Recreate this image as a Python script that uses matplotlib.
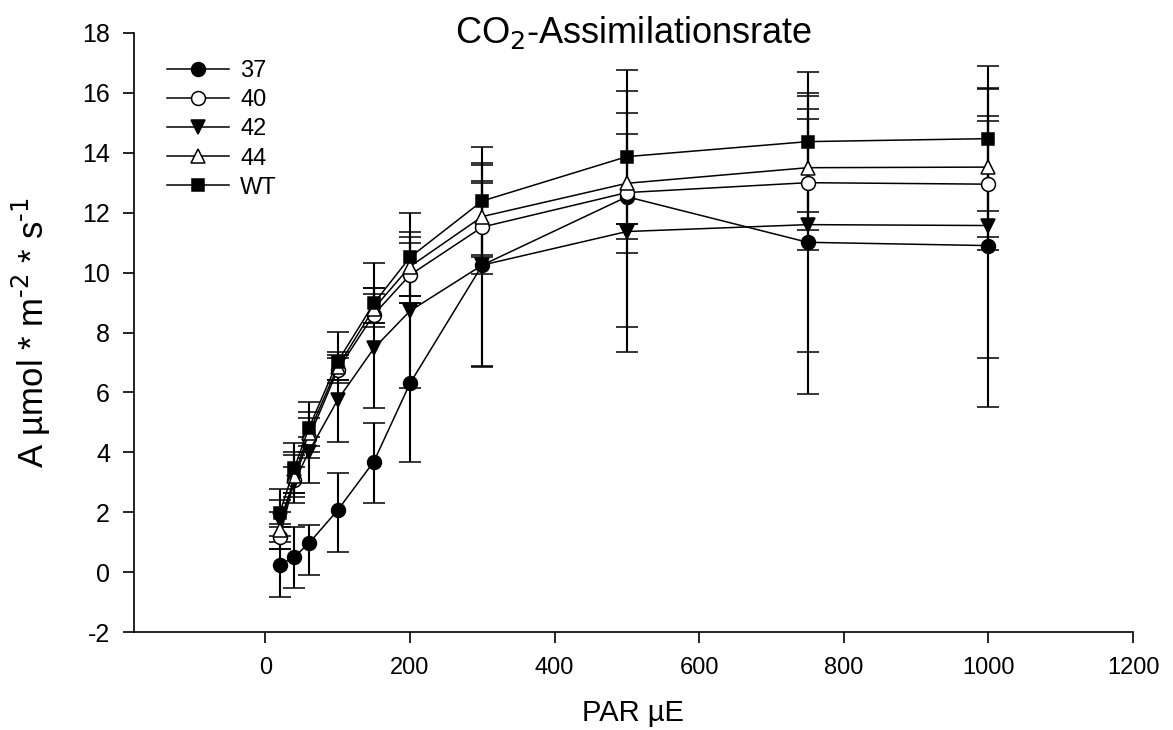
import matplotlib.pyplot as plt

plt.rcParams['font.family'] = ['Liberation Sans', 'DejaVu Sans']
plt.rcParams['axes.unicode_minus'] = False

par = [20, 40, 60, 100, 150, 200, 300, 500, 750, 1000]
labels = ['37', '40', '42', '44', 'WT']

a_37 = [0.24, 0.51, 0.96, 2.07, 3.69, 6.30, 10.25, 12.53, 11.01, 10.90]
a_40 = [1.18, 3.07, 4.47, 6.75, 8.60, 9.92, 11.52, 12.67, 13.00, 12.95]
a_42 = [1.75, 3.00, 4.02, 5.75, 7.47, 8.72, 10.25, 11.37, 11.60, 11.57]
a_44 = [1.41, 3.20, 4.64, 6.85, 8.80, 10.20, 11.87, 12.98, 13.50, 13.52]
a_wt = [1.98, 3.47, 4.80, 7.03, 8.97, 10.51, 12.39, 13.87, 14.37, 14.47]

# error bar lengths below / above the mean
lo_37 = [1.06, 1.02, 1.06, 1.39, 1.39, 2.61, 3.37, 0.91, 5.05, 5.37]
hi_37 = [0.76, 1.01, 0.61, 1.23, 1.30, 2.67, 3.35, 2.10, 4.12, 4.32]
lo_40 = [0.42, 0.77, 0.67, 0.45, 0.40, 0.95, 1.57, 5.32, 5.65, 5.81]
hi_40 = [0.42, 0.83, 0.68, 0.50, 0.70, 1.26, 1.46, 2.65, 2.90, 3.17]
lo_42 = [0.25, 0.36, 1.05, 1.40, 2.00, 2.58, 3.40, 0.25, 0.18, 0.37]
hi_42 = [0.25, 0.50, 0.48, 1.40, 2.01, 2.26, 2.81, 0.25, 3.86, 3.48]
lo_44 = [0.65, 0.70, 0.44, 0.44, 0.49, 0.97, 1.34, 4.79, 2.74, 2.78]
hi_44 = [1.00, 0.80, 0.72, 0.50, 0.68, 1.17, 1.79, 3.09, 2.49, 2.65]
lo_wt = [0.78, 0.83, 0.80, 0.62, 0.66, 1.28, 1.80, 3.21, 2.34, 2.41]
hi_wt = [0.79, 0.83, 0.89, 1.00, 1.34, 1.49, 1.81, 2.89, 2.34, 2.43]

series = [
    (a_37, lo_37, hi_37, 'o', 'black'),
    (a_40, lo_40, hi_40, 'o', 'white'),
    (a_42, lo_42, hi_42, 'v', 'black'),
    (a_44, lo_44, hi_44, '^', 'white'),
    (a_wt, lo_wt, hi_wt, 's', 'black'),
]

fig = plt.figure(figsize=(11.73, 7.30), dpi=100)
ax = fig.add_axes([0.114, 0.134, 0.852, 0.821])

handles = []
for (vals, lo, hi, mk, fc), lab in zip(series, labels):
    c = ax.errorbar(par, vals, yerr=[lo, hi], color='black', lw=1.1,
                    marker=mk, ms=10 if mk != 's' else 9, mfc=fc, mec='black', mew=1.1,
                    ecolor='black', elinewidth=1.5, capsize=8, capthick=1.2,
                    label=lab)
    handles.append(c[0])

ax.set_xlim(-182, 1200)
ax.set_ylim(-2, 18)
ax.set_xticks(range(0, 1201, 200))
ax.set_yticks(range(-2, 19, 2))
ax.spines['top'].set_visible(False)
ax.spines['right'].set_visible(False)
ax.spines['left'].set_linewidth(1.2)
ax.spines['bottom'].set_linewidth(1.2)
ax.tick_params(axis='both', direction='out', length=8, width=1.2)
ax.tick_params(axis='x', pad=10, labelsize=17)
ax.tick_params(axis='y', pad=9, labelsize=18)

ax.set_title('CO$_2$-Assimilationsrate', fontsize=26, y=1.0, pad=-7)
ax.set_xlabel('PAR µE', fontsize=21, labelpad=14)
ax.set_ylabel(r'A µmol * m$^{\text{-}2}$ * s$^{\text{-}1}$', fontsize=25, labelpad=21)

ax.legend(handles=handles, labels=labels, loc='upper left', frameon=False,
          fontsize=17, handlelength=2.6, handletextpad=0.5, labelspacing=0.3,
          bbox_to_anchor=(0.024, 0.97), borderaxespad=0)

fig.savefig('out.png', dpi=100)
